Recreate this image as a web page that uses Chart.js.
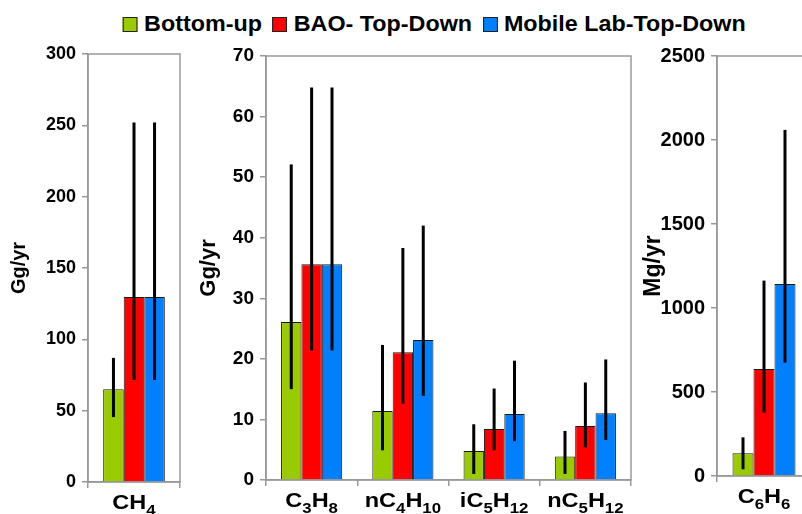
<!DOCTYPE html>
<html>
<head>
<meta charset="utf-8">
<script src="https://cdn.jsdelivr.net/npm/chart.js@4"></script>
<style>
  body { margin: 0; width: 802px; height: 514px; overflow: hidden; background: #fff; position: relative; font-family: "Liberation Sans", Arial, sans-serif; }
  canvas { position: absolute; top: 0; }
  #legend { position: absolute; top: 11px; left: 0; width: 858px; text-align: center; font-weight: bold; font-size: 22px; white-space: nowrap;
            transform: scaleX(1.06); transform-origin: 429px 50%; }
  #legend span.box { display: inline-block; width: 12px; height: 13px; border: 1px solid #222; margin: 0 6px 0 10px; vertical-align: -1px; }
</style>
</head>
<body>
<div id="legend"></div>
<canvas id="ch4Chart" width="190" height="514" style="left:0"></canvas>
<canvas id="nmhcChart" width="450" height="514" style="left:190px"></canvas>
<canvas id="benzChart" width="180" height="514" style="left:640px"></canvas>
<script>
// series
const seriesNames = ["Bottom-up", "BAO- Top-Down", "Mobile Lab-Top-Down"];
const seriesColors = ["#99cc00", "#ff0000", "#0080ff"];

// CH4 panel (Gg/yr)
const ch4Labels = ["CH4"];
const ch4Bottom = [65];
const ch4BottomLo = [45.5];
const ch4BottomHi = [87];
const ch4Bao = [129.7];
const ch4BaoLo = [71.5];
const ch4BaoHi = [252];
const ch4Mobile = [129.7];
const ch4MobileLo = [71.5];
const ch4MobileHi = [252];

// C3-C5 alkanes panel (Gg/yr)
const nmhcLabels = ["C3H8", "nC4H10", "iC5H12", "nC5H12"];
const nmhcBottom = [26.1, 11.4, 4.8, 3.9];
const nmhcBottomLo = [15.0, 4.9, 1.0, 1.0];
const nmhcBottomHi = [52.1, 22.3, 9.2, 8.1];
const nmhcBao = [35.6, 21.1, 8.4, 8.9];
const nmhcBaoLo = [21.4, 12.6, 4.9, 5.4];
const nmhcBaoHi = [64.8, 38.3, 15.1, 16.1];
const nmhcMobile = [35.6, 23.1, 10.9, 11.0];
const nmhcMobileLo = [21.4, 13.9, 6.4, 6.6];
const nmhcMobileHi = [64.8, 42.0, 19.7, 19.9];

// benzene panel (Mg/yr)
const benzLabels = ["C6H6"];
const benzBottom = [135];
const benzBottomLo = [40];
const benzBottomHi = [230];
const benzBao = [637];
const benzBaoLo = [377];
const benzBaoHi = [1163];
const benzMobile = [1143];
const benzMobileLo = [675];
const benzMobileHi = [2060];

// legend
const legend = document.getElementById("legend");
seriesNames.forEach((name, i) => {
  const box = document.createElement("span");
  box.className = "box";
  box.style.background = seriesColors[i];
  legend.appendChild(box);
  legend.appendChild(document.createTextNode(name));
});

const gray = "#999999";
const fontFamily = "'Liberation Sans', Arial, sans-serif";

// vertical error lines, no caps
const errorBars = {
  id: "errorBars",
  afterDatasetsDraw(chart) {
    const ctx = chart.ctx;
    const y = chart.scales.y;
    ctx.save();
    ctx.strokeStyle = "#000";
    ctx.lineWidth = 3;
    chart.data.datasets.forEach((ds, di) => {
      const meta = chart.getDatasetMeta(di);
      meta.data.forEach((bar, i) => {
        ctx.beginPath();
        ctx.moveTo(bar.x, y.getPixelForValue(ds.lo[i]));
        ctx.lineTo(bar.x, y.getPixelForValue(ds.hi[i]));
        ctx.stroke();
      });
    });
    ctx.restore();
  }
};

// box around the plot area
const frame = {
  id: "frame",
  beforeDatasetsDraw(chart) {
    const a = chart.chartArea;
    const ctx = chart.ctx;
    ctx.save();
    ctx.strokeStyle = gray;
    ctx.lineWidth = 1.5;
    ctx.strokeRect(a.left, a.top, a.right - a.left, a.bottom - a.top);
    ctx.restore();
  }
};

// category labels with subscript digits
const formulaLabels = {
  id: "formulaLabels",
  afterDraw(chart) {
    const ctx = chart.ctx;
    const x = chart.scales.x;
    const baseY = x.top + 27;
    const big = "bold 21px " + fontFamily;
    const small = "bold 15px " + fontFamily;
    const stretch = 1.12;
    ctx.save();
    ctx.fillStyle = "#000";
    ctx.textBaseline = "alphabetic";
    chart.data.labels.forEach((label, i) => {
      const parts = label.match(/[A-Za-z]+|\d+/g);
      let total = 0;
      parts.forEach(p => {
        ctx.font = /\d/.test(p) ? small : big;
        total += ctx.measureText(p).width;
      });
      ctx.save();
      ctx.translate(x.getPixelForValue(i), 0);
      ctx.scale(stretch, 1);
      let cx = -total / 2;
      parts.forEach(p => {
        const sub = /\d/.test(p);
        ctx.font = sub ? small : big;
        ctx.fillText(p, cx, sub ? baseY + 6 : baseY);
        cx += ctx.measureText(p).width;
      });
      ctx.restore();
    });
    ctx.restore();
  }
};

function makeChart(id, labels, values, los, his, opt) {
  const datasets = values.map((v, i) => ({
    label: seriesNames[i],
    data: v,
    lo: los[i],
    hi: his[i],
    backgroundColor: seriesColors[i],
    borderColor: "#1a1a1a",
    borderWidth: 1,
    categoryPercentage: 0.67,
    barPercentage: 1.0
  }));
  return new Chart(document.getElementById(id).getContext("2d"), {
    type: "bar",
    data: { labels: labels, datasets: datasets },
    options: {
      responsive: false,
      animation: false,
      layout: { padding: { top: opt.top, right: opt.right, left: 0, bottom: 0 } },
      plugins: { legend: { display: false }, tooltip: { enabled: false } },
      scales: {
        x: {
          ticks: { display: false },
          grid: { drawOnChartArea: false, tickLength: 6, color: gray, lineWidth: 1.5 },
          border: { color: gray, width: 1.5 },
          afterFit: s => { s.height = opt.xHeight; }
        },
        y: {
          min: 0,
          max: opt.max,
          ticks: {
            stepSize: opt.step,
            color: "#000",
            padding: 6,
            callback: v => String(v),
            font: { family: fontFamily, size: opt.tickSize, weight: "bold" }
          },
          grid: { drawOnChartArea: false, tickLength: 6, color: gray, lineWidth: 1.5 },
          border: { color: gray, width: 1.5 },
          title: {
            display: true,
            text: opt.title,
            color: "#000",
            padding: { top: opt.titlePad, bottom: 0 },
            font: { family: fontFamily, size: opt.titleSize, weight: "bold" }
          },
          afterFit: s => { s.width = opt.yWidth; }
        }
      }
    },
    plugins: [frame, errorBars, formulaLabels]
  });
}

makeChart("ch4Chart", ch4Labels,
  [ch4Bottom, ch4Bao, ch4Mobile],
  [ch4BottomLo, ch4BaoLo, ch4MobileLo],
  [ch4BottomHi, ch4BaoHi, ch4MobileHi],
  { top: 54, right: 10, xHeight: 32, yWidth: 88, max: 300, step: 50,
    title: "Gg/yr", titlePad: 7, titleSize: 20, tickSize: 18 });

makeChart("nmhcChart", nmhcLabels,
  [nmhcBottom, nmhcBao, nmhcMobile],
  [nmhcBottomLo, nmhcBaoLo, nmhcMobileLo],
  [nmhcBottomHi, nmhcBaoHi, nmhcMobileHi],
  { top: 56, right: 9, xHeight: 34, yWidth: 76, max: 70, step: 10,
    title: "Gg/yr", titlePad: 6, titleSize: 22, tickSize: 19 });

makeChart("benzChart", benzLabels,
  [benzBottom, benzBao, benzMobile],
  [benzBottomLo, benzBaoLo, benzMobileLo],
  [benzBottomHi, benzBaoHi, benzMobileHi],
  { top: 56, right: 9, xHeight: 38, yWidth: 77, max: 2500, step: 500,
    title: "Mg/yr", titlePad: 0, titleSize: 23, tickSize: 20 });
</script>
</body>
</html>
